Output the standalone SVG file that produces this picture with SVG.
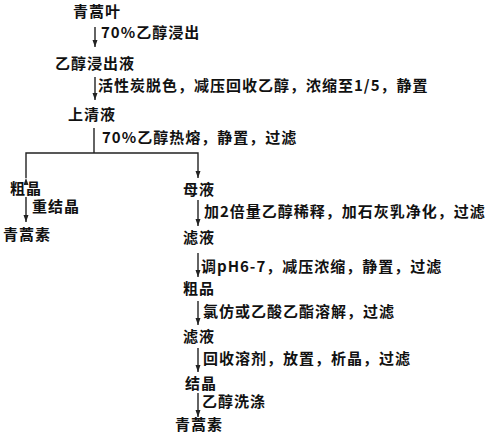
<svg xmlns="http://www.w3.org/2000/svg" width="488" height="437" viewBox="0 0 488 437">
<defs>
<style>
text{font-family:"Noto Sans CJK SC","Liberation Sans",sans-serif;font-size:15px;font-weight:700;letter-spacing:1px;fill:#111}
.c{stroke:#222;stroke-width:1.4;fill:none}
</style>
<marker id="ah" markerUnits="userSpaceOnUse" markerWidth="8" markerHeight="6" refX="7" refY="2.5" orient="auto"><path d="M0,0 L7,2.5 L0,5 z" fill="#222"/></marker>
</defs>
<rect width="488" height="437" fill="#fff"/>
<g id="connectors">
<path class="c" d="M95,27 V47" marker-end="url(#ah)"/>
<text x="101" y="38">70%乙醇浸出</text>
<path class="c" d="M95,77 V100" marker-end="url(#ah)"/>
<text x="98" y="91">活性炭脱色，减压回收乙醇，浓缩至1/5，静置</text>
<path class="c" d="M94,128 V153"/>
<text x="102" y="143">70%乙醇热熔，静置，过滤</text>
<path class="c" d="M26,178 V153 H198 V178" marker-end="url(#ah)" marker-start="url(#ah)"/>
<path class="c" d="M26,197 V222" marker-end="url(#ah)"/>
<text x="32" y="212">重结晶</text>
<path class="c" d="M198,200 V226" marker-end="url(#ah)"/>
<text x="204" y="217">加2倍量乙醇稀释，加石灰乳净化，过滤</text>
<path class="c" d="M198,253 V277" marker-end="url(#ah)"/>
<text x="201" y="272">调pH6-7，减压浓缩，静置，过滤</text>
<path class="c" d="M198,301 V325" marker-end="url(#ah)"/>
<text x="203" y="317">氯仿或乙酸乙酯溶解，过滤</text>
<path class="c" d="M198,348 V372" marker-end="url(#ah)"/>
<text x="203" y="364">回收溶剂，放置，析晶，过滤</text>
<path class="c" d="M198,393 V417" marker-end="url(#ah)"/>
<text x="202" y="407">乙醇洗涤</text>
</g>
<g id="n1"><text x="73" y="17">青蒿叶</text></g>
<g id="n2"><text x="55" y="69">乙醇浸出液</text></g>
<g id="n3"><text x="68" y="120">上清液</text></g>
<g id="n4"><text x="10" y="194">粗晶</text></g>
<g id="n5"><text x="3" y="240">青蒿素</text></g>
<g id="n6"><text x="183" y="195">母液</text></g>
<g id="n7"><text x="183" y="243">滤液</text></g>
<g id="n8"><text x="183" y="294">粗品</text></g>
<g id="n9"><text x="183" y="342">滤液</text></g>
<g id="n10"><text x="185" y="389">结晶</text></g>
<g id="n11"><text x="175" y="430">青蒿素</text></g>
</svg>
